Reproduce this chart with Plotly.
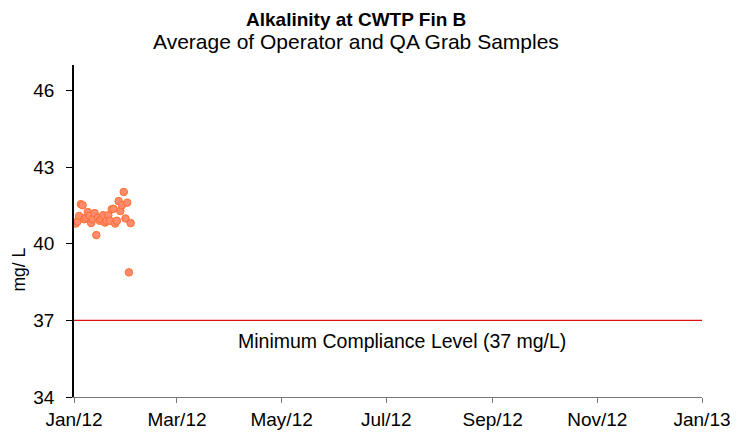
import plotly.graph_objects as go
import pandas as pd

dates = pd.date_range("2012-01-02", periods=33, freq="D")
values = [40.79, 40.87, 41.09, 41.55, 41.51, 40.96, 41.02, 41.24, 41.09, 40.81,
          40.96, 41.20, 40.34, 41.02, 40.90, 40.96, 41.12, 40.83, 40.90, 41.12,
          40.90, 41.35, 41.37, 40.79, 40.90, 41.67, 41.28, 41.51, 42.03, 40.99,
          41.61, 38.88, 40.81]
min_level = 37
y_ticks = [34, 37, 40, 43, 46]
x_start, x_end = "2012-01-01", "2013-01-01"

FONT = "Liberation Sans"
fig = go.Figure()
fig.add_trace(go.Scatter(
    x=dates, y=values, mode="markers",
    marker=dict(size=7.5, color="#FF8A6E", line=dict(color="#FF7030", width=1)),
    showlegend=False,
))
fig.add_trace(go.Scatter(
    x=[x_start, x_end], y=[min_level, min_level], mode="lines",
    line=dict(color="#DD1111", width=1.2), showlegend=False, hoverinfo="skip",
))
fig.add_annotation(
    x=0.523, xref="paper", y=36.18, yref="y", text="Minimum Compliance Level (37 mg/L)",
    showarrow=False, font=dict(size=19.5, color="black", family=FONT), yanchor="middle",
)
# Title and subtitle
fig.add_annotation(
    x=0.449, xref="paper", y=1 + (65 - 19) / 332, yref="paper",
    text="<b>Alkalinity at CWTP Fin B</b>", showarrow=False,
    font=dict(size=19, color="black", family=FONT), yanchor="middle",
)
fig.add_annotation(
    x=0.449, xref="paper", y=1 + (65 - 41.5) / 332, yref="paper",
    text="Average of Operator and QA Grab Samples", showarrow=False,
    font=dict(size=21, color="black", family=FONT), yanchor="middle",
)
# Y axis title
fig.add_annotation(
    x=(18.5 - 74) / 628, xref="paper", y=(397 - 270) / 332, yref="paper",
    text="mg/ L", textangle=-90, showarrow=False,
    font=dict(size=17.5, color="black", family=FONT), xanchor="center", yanchor="middle",
)

fig.update_layout(
    width=730, height=424,
    margin=dict(l=66, r=36, t=57, b=35, autoexpand=False),
    plot_bgcolor="white", paper_bgcolor="white",
    font=dict(family=FONT, color="black", size=19),
    xaxis=dict(
        range=[x_start, x_end], type="date", tickformat="%b/%y",
        dtick="M2", tick0=x_start, showgrid=False, zeroline=False,
        showline=True, linecolor="#777777", linewidth=1,
        ticks="outside", ticklen=5, tickcolor="#777777",
        tickfont=dict(size=19), ticklabelstandoff=0,
    ),
    yaxis=dict(
        range=[34, 47], tickvals=y_ticks, showgrid=False, zeroline=False,
        showline=True, linecolor="black", linewidth=1.5,
        ticks="outside", ticklen=6, tickcolor="black",
        tickfont=dict(size=19), ticklabelstandoff=8,
    ),
)

fig.write_html("out.html")
